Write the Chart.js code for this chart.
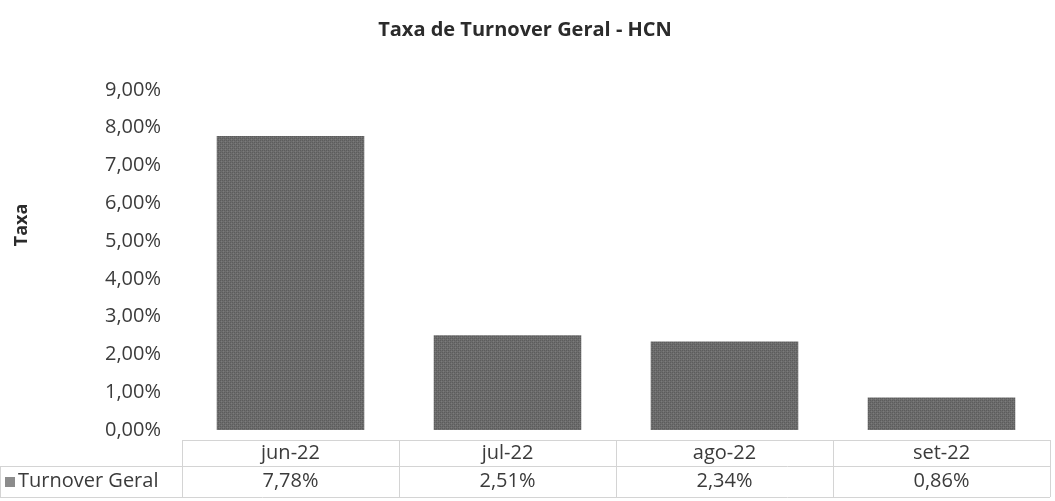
<!DOCTYPE html>
<html>
<head>
<meta charset="utf-8">
<script src="https://cdn.jsdelivr.net/npm/chart.js@4"></script>
<style>
  body { margin: 0; background: #fff; }
  #wrap { width: 1055px; height: 501px; }
</style>
</head>
<body>
<div id="wrap"><canvas id="turnover"></canvas></div>
<script>
var meses = ['jun-22', 'jul-22', 'ago-22', 'set-22'];
var turnover = [7.78, 2.51, 2.34, 0.86];
var serieNome = 'Turnover Geral';
var eixoY = 'Taxa';
var yMax = 9;
var yStep = 1;

var textColor = '#3b3b3b';
var lineColor = '#d4d4d4';
var fontFamily = '"Open Sans", "Noto Sans", sans-serif';

function fmtPct(v) {
    return v.toFixed(2).replace('.', ',') + '%';
}

// dithered gray fill, like the printed bars
function barPattern() {
    var c = document.createElement('canvas');
    c.width = 4; c.height = 4;
    var g = c.getContext('2d');
    g.fillStyle = '#6c6c6c';
    g.fillRect(0, 0, 4, 4);
    g.fillStyle = '#5c5c5c';
    g.fillRect(0, 0, 1, 1); g.fillRect(2, 2, 1, 1);
    g.fillRect(2, 0, 1, 1); g.fillRect(0, 2, 1, 1);
    g.fillStyle = '#7b7b7b';
    g.fillRect(1, 1, 1, 1); g.fillRect(3, 3, 1, 1);
    return g.createPattern(c, 'repeat');
}

// data table under the plot: month row + value row with legend key,
// plus the y axis title (sits a bit above the axis middle)
var dataTable = {
    id: 'dataTable',
    afterDraw: function (chart) {
        var ctx = chart.ctx;
        var x = chart.scales.x;
        var half = (x.getPixelForValue(1) - x.getPixelForValue(0)) / 2;
        var row1 = 440, row2 = 466, bottom = 497;
        var first = x.getPixelForValue(0) - half;
        var last = x.getPixelForValue(meses.length - 1) + half;

        ctx.save();
        ctx.strokeStyle = lineColor;
        ctx.lineWidth = 1;
        ctx.beginPath();
        ctx.moveTo(first, row1 + 0.5); ctx.lineTo(last, row1 + 0.5);
        ctx.moveTo(0, row2 + 0.5); ctx.lineTo(last, row2 + 0.5);
        ctx.moveTo(0, bottom + 0.5); ctx.lineTo(last, bottom + 0.5);
        for (var i = 0; i <= meses.length; i++) {
            var bx = Math.round(first + i * half * 2) + 0.5;
            ctx.moveTo(bx, row1); ctx.lineTo(bx, bottom);
        }
        ctx.moveTo(0.5, row2); ctx.lineTo(0.5, bottom);
        ctx.stroke();

        ctx.fillStyle = textColor;
        ctx.font = '20px ' + fontFamily;
        ctx.textAlign = 'center';
        ctx.textBaseline = 'middle';
        meses.forEach(function (m, i) {
            var cx = x.getPixelForValue(i);
            ctx.fillText(m, cx, (row1 + row2) / 2);
            ctx.fillText(fmtPct(turnover[i]), cx, (row2 + bottom) / 2);
        });

        ctx.fillStyle = '#8c8c8c';
        ctx.fillRect(5, 477, 10, 10);
        ctx.fillStyle = textColor;
        ctx.textAlign = 'left';
        ctx.fillText(serieNome, 18, (row2 + bottom) / 2);

        ctx.translate(22, 225);
        ctx.rotate(-Math.PI / 2);
        ctx.textAlign = 'center';
        ctx.fillStyle = '#2b2b2b';
        ctx.font = 'bold 18px ' + fontFamily;
        ctx.fillText(eixoY, 0, 0);
        ctx.restore();
    }
};

var ctx = document.getElementById('turnover').getContext('2d');
var myChart = new Chart(ctx, {
    type: 'bar',
    data: {
        labels: meses,
        datasets: [{
            label: serieNome,
            data: turnover,
            backgroundColor: barPattern(),
            borderWidth: 0,
            categoryPercentage: 1,
            barPercentage: 0.68
        }]
    },
    options: {
        responsive: true,
        maintainAspectRatio: false,
        animation: false,
        layout: {
            padding: { left: 0, right: 5, bottom: 71 }
        },
        scales: {
            x: {
                display: false
            },
            y: {
                min: 0,
                max: yMax,
                afterFit: function (scale) { scale.width = 182; },
                grid: { display: false },
                border: { display: false },
                ticks: {
                    stepSize: yStep,
                    padding: 13,
                    color: textColor,
                    font: { family: fontFamily, size: 20 },
                    callback: function (v) { return fmtPct(v); }
                }
            }
        },
        plugins: {
            legend: { display: false },
            tooltip: { enabled: false },
            title: {
                display: true,
                text: 'Taxa de Turnover Geral - HCN',
                color: '#2b2b2b',
                font: { family: fontFamily, size: 20, weight: 'bold' },
                padding: { top: 18, bottom: 48 }
            }
        }
    },
    plugins: [dataTable]
});
</script>
</body>
</html>
